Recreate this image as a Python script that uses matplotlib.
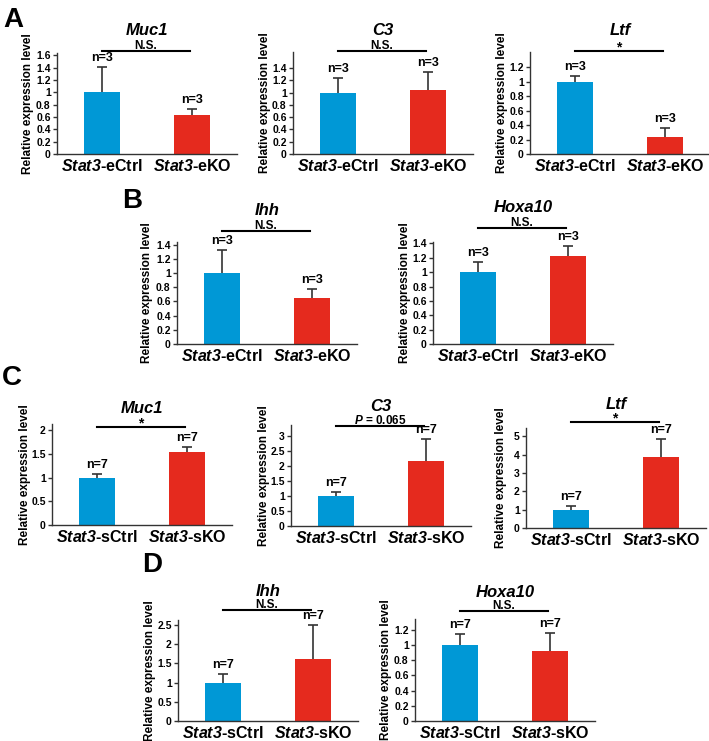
import numpy as np
import matplotlib
matplotlib.use('Agg')
import matplotlib.pyplot as plt
from matplotlib.transforms import blended_transform_factory

plt.rcParams['font.family'] = ['Liberation Sans', 'DejaVu Sans']
plt.rcParams['font.weight'] = 'bold'
plt.rcParams['mathtext.fontset'] = 'custom'
plt.rcParams['mathtext.rm'] = 'Liberation Sans:bold'
plt.rcParams['mathtext.bf'] = 'Liberation Sans:bold'
plt.rcParams['mathtext.it'] = 'Liberation Sans:italic:bold'
plt.rcParams['mathtext.bfit'] = 'Liberation Sans:italic:bold'

# ---- data ----
genes = ['Muc1', 'C3', 'Ltf', 'Ihh', 'Hoxa10', 'Muc1', 'C3', 'Ltf', 'Ihh', 'Hoxa10']
ctrl_mean = [1.0, 1.0, 1.0, 1.0, 1.0, 1.0, 1.0, 1.0, 1.0, 1.0]
ctrl_err = [0.42, 0.23, 0.08, 0.33, 0.14, 0.07, 0.14, 0.18, 0.23, 0.14]
ko_mean = [0.64, 1.04, 0.23, 0.65, 1.22, 1.55, 2.18, 3.85, 1.62, 0.92]
ko_err = [0.09, 0.30, 0.13, 0.12, 0.15, 0.10, 0.71, 1.02, 0.87, 0.23]
n_per_group = [3, 3, 3, 3, 3, 7, 7, 7, 7, 7]
sig_labels = ['N.S.', 'N.S.', '*', 'N.S.', 'N.S.', '*', r'$\mathbfit{P}$ = 0.065', '*', 'N.S.', 'N.S.']
group_labels_e = [r'$\mathbfit{Stat3}$-eCtrl', r'$\mathbfit{Stat3}$-eKO']
group_labels_s = [r'$\mathbfit{Stat3}$-sCtrl', r'$\mathbfit{Stat3}$-sKO']
ytick_max = [1.6, 1.4, 1.2, 1.4, 1.4, 2, 3, 5, 2.5, 1.2]
ytick_step = [0.2, 0.2, 0.2, 0.2, 0.2, 0.5, 0.5, 1, 0.5, 0.2]

# ---- layout in pixels: left, bottom (y=0), top, ylim top, sig line y, title gap, ylabel offset ----
layout = [
    (57, 154, 53, 1.64, 51, 16, 29),
    (293, 154, 52, 1.66, 51, 16, 28),
    (530, 154, 52, 1.41, 51, 16, 28),
    (177, 344, 242, 1.44, 231, 16, 30),
    (433, 344, 242, 1.42, 228, 16, 28),
    (52, 525, 424, 2.13, 427, 14, 27),
    (291, 526, 425, 3.37, 426, 15, 27),
    (526, 528, 428, 5.45, 422, 13, 25),
    (178, 721, 620, 2.63, 610, 14, 28),
    (415, 721, 619, 1.34, 611, 14, 29),
]
panel_letters = [('A', 3, 27), ('B', 122, 208), ('C', 2, 385), ('D', 142, 572)]

W, H = 709, 741
AXW = 180
BLUE = '#0098D6'
RED = '#E52A1E'

fig = plt.figure(figsize=(W / 100, H / 100), dpi=100)
fig.patch.set_facecolor('white')

x = np.array([0, 1])
for i, gene in enumerate(genes):
    left, bottom, top, ymax, sig_y, tgap, ylab_off = layout[i]
    ax = fig.add_axes([left / W, 1 - bottom / H, AXW / W, (bottom - top) / H])
    means = [ctrl_mean[i], ko_mean[i]]
    errs = [ctrl_err[i], ko_err[i]]
    ax.bar(x, means, width=0.4, color=[BLUE, RED], edgecolor='none', zorder=2)
    tops = np.array(means) + np.array(errs)
    ax.vlines(x, means, tops, color='#333333', lw=1.2, zorder=3)
    ax.hlines(tops, x - 0.055, x + 0.055, color='#333333', lw=1.2, zorder=3)
    for xi, t in zip(x, tops):
        ax.annotate(f'n={n_per_group[i]}', (xi, t), xytext=(0, 3), textcoords='offset pixels',
                    ha='center', va='bottom', fontsize=9, fontweight='bold')

    ax.set_xlim(-0.5, 1.5)
    ax.set_ylim(0, ymax)
    ticks = np.arange(0, ytick_max[i] + 1e-6, ytick_step[i])
    ax.set_yticks(ticks)
    ax.set_yticklabels([f'{t:g}' for t in ticks], fontsize=7.5, fontweight='bold')
    ax.set_xticks(x)
    ax.set_xticklabels(group_labels_e if i < 5 else group_labels_s, fontsize=11.5, fontweight='bold')
    ax.tick_params(axis='x', length=0, pad=3)
    ax.tick_params(axis='y', length=3, width=1, pad=1.5, color='#333333')
    for s in ['top', 'right']:
        ax.spines[s].set_visible(False)
    for s in ['left', 'bottom']:
        ax.spines[s].set_color('#333333')
        ax.spines[s].set_linewidth(1.0)
    ax.set_ylabel('Relative expression level', fontsize=8.5, fontweight='bold', va='center')
    ax.yaxis.set_label_coords(-ylab_off / AXW, 0.5)

    # significance bar and labels (pixel -> axes fraction)
    frac = lambda ypx: (bottom - ypx) / (bottom - top)
    tr = blended_transform_factory(ax.transData, ax.transAxes)
    ax.plot([0, 0.98], [frac(sig_y)] * 2, color='black', lw=1.5, transform=tr, clip_on=False)
    if sig_labels[i] == '*':
        ax.text(0.49, frac(sig_y), '*', transform=tr, ha='center', va='baseline',
                fontsize=10, fontweight='bold')
    else:
        ax.text(0.49, frac(sig_y - 2), sig_labels[i], transform=tr, ha='center', va='baseline',
                fontsize=8.5, fontweight='bold')
    ax.text(0.5, frac(sig_y - tgap), gene, transform=ax.transAxes, ha='center', va='baseline',
            fontsize=12, fontweight='bold', fontstyle='italic')

for letter, lx, ly in panel_letters:
    fig.text(lx / W, 1 - ly / H, letter, fontsize=20, fontweight='bold', ha='left', va='baseline')

fig.savefig('out.png', dpi=100)
